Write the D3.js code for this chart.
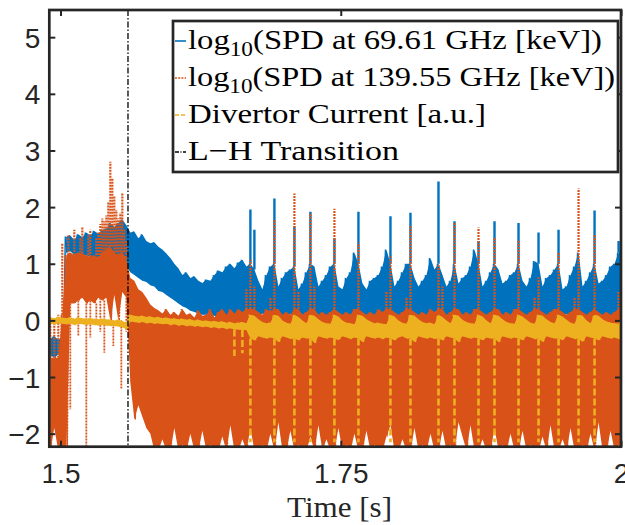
<!DOCTYPE html>
<html>
<head>
<meta charset="utf-8">
<script src="https://cdn.jsdelivr.net/npm/d3@7"></script>
<style>
  body { margin: 0; background: #fff; }
  svg { display: block; }
</style>
</head>
<body>
<script>
// sampled signals: each bin has a high and a low sample of the dense core of
// the trace (read off the figure); spikes and drops are listed separately
var tStart = 1.49;
var tStep = 0.00357;
var lhTime = 1.5602;

var xTicks = [1.5, 1.75, 2];
var yTicks = [-2, -1, 0, 1, 2, 3, 4, 5];

var legendLabels = [
  ['log', '10', '(SPD at 69.61 GHz [keV])'],
  ['log', '10', '(SPD at 139.55 GHz [keV])'],
  ['Divertor Current [a.u.]'],
  ['L\u2212H Transition']
];

var blueHi = [
  -0.32, -0.28, -0.34, -0.3, 1.48, 1.5, 1.42, 1.52, 1.47, 1.55,
  1.5, 1.58, 1.53, 1.6, 1.62, 1.72, 1.65, 1.72, 1.78, 1.68,
  1.55, 1.57, 1.45, 1.52, 1.4, 1.36, 1.38, 1.3, 1.25, 1.18,
  1.1, 1.0, 0.92, 0.8, 0.85, 0.75, 0.78, 0.7, 0.66, 0.72,
  0.7, 0.8, 0.88, 0.85, 0.95, 1.0, 0.92, 1.02, 1.07, 0.95,
  1.0, 0.9, 0.7, 0.55, 0.8, 0.95, 1.0, 0.6, 0.75, 0.85,
  0.9, 0.95, 0.55, 0.65, 0.85, 1.0, 0.95, 0.6, 0.7, 0.8,
  0.95, 1.0, 0.6, 0.55, 0.75, 0.85, 1.2, 1.0, 0.65, 0.55,
  0.7, 0.75, 0.8, 0.95, 1.25, 1.0, 0.6, 0.7, 0.85, 1.0,
  1.0, 0.75, 0.6, 0.7, 0.8, 1.1, 0.9, 1.0, 0.8, 0.6,
  0.7, 1.0, 0.65, 0.75, 0.8, 0.95, 1.25, 1.0, 0.6, 0.7,
  0.85, 1.0, 0.9, 0.65, 0.7, 0.8, 0.85, 1.0, 0.7, 0.6,
  0.75, 1.05, 1.0, 0.6, 0.75, 0.8, 0.9, 1.0, 0.55, 0.6,
  0.8, 0.95, 1.2, 0.6, 0.7, 0.85, 1.0, 0.65, 0.7, 0.8,
  0.95, 1.0, 1.2, 1.3
];
var blueLo = [
  -0.62, -0.66, -0.6, -0.64, 1.2, 1.22, 1.15, 1.2, 1.1, 1.15,
  1.12, 1.1, 1.05, 0.95, 0.9, 0.05, 0.85, 0.9, 0.55, 0.95,
  0.85, 0.8, 0.75, 0.7, 0.68, 0.62, 0.6, 0.52, 0.5, 0.45,
  0.4, 0.35, 0.3, 0.25, 0.22, 0.17, 0.15, 0.12, 0.1, 0.1,
  0.08, 0.08, 0.1, 0.08, 0.08, 0.1, 0.08, 0.08, 0.1, 0.08,
  0.1, 0.06, 0.08, 0.12, 0.05, 0.09, 0.07, 0.1, 0.06, 0.08,
  0.11, 0.05, 0.08, 0.1, 0.07, 0.09, 0.06, 0.1, 0.08, 0.05,
  0.09, 0.11, 0.07, 0.08, 0.06, 0.1, 0.09, 0.05, 0.08, 0.1,
  0.07, 0.06, 0.09, 0.11, 0.08, 0.05, 0.1, 0.07, 0.09, 0.06,
  0.08, 0.1, 0.05, 0.09, 0.07, 0.11, 0.08, 0.06, 0.1, 0.09,
  0.05, 0.08, 0.07, 0.1, 0.06, 0.09, 0.11, 0.08, 0.05, 0.1,
  0.07, 0.09, 0.06, 0.08, 0.1, 0.05, 0.09, 0.07, 0.11, 0.08,
  0.06, 0.1, 0.09, 0.05, 0.08, 0.07, 0.1, 0.06, 0.09, 0.11,
  0.08, 0.05, 0.1, 0.07, 0.09, 0.06, 0.08, 0.1, 0.05, 0.09,
  0.07, 0.11, 0.08, 0.06
];
// ELM spikes of the 69.61 GHz channel (bin position, peak value)
var blueSpikeBins = [50, 51, 56, 61, 65, 71, 77, 85, 90, 97, 101, 107, 111, 117, 122, 127, 136, 142, 143];
var blueSpikeTops = [1.96, 1.6, 2.15, 1.66, 1.92, 1.45, 1.92, 1.84, 1.9, 2.45, 1.75, 1.4, 1.75, 1.72, 1.55, 1.6, 1.94, 1.4, 1.72];

var orangeHi = [
  -0.66, -0.66, -0.66, 0.1, 1.15, 1.2, 1.15, 1.2, 1.18, 1.15,
  1.12, 1.15, 1.1, 1.2, 1.25, 1.3, 1.2, 1.15, 1.2, 1.1,
  0.75, 0.7, 0.55, 0.5, 0.4, 0.28, 0.22, 0.18, 0.12, 0.2,
  0.1, 0.15, 0.08, 0.2, 0.1, 0.12, 0.05, 0.18, 0.08, 0.1,
  0.2, 0.05, 0.15, 0.2, 0.1, 0.2, 0.12, 0.2, 0.15, 0.2,
  0.2, 0.2, 0.15, 0.1, 0.2, 0.15, 0.2, 0.2, 0.1, 0.15,
  0.1, 0.2, 0.2, 0.1, 0.15, 0.2, 0.2, 0.1, 0.15, 0.1,
  0.15, 0.2, 0.15, 0.1, 0.15, 0.1, 0.2, 0.2, 0.15, 0.1,
  0.15, 0.1, 0.2, 0.15, 0.2, 0.2, 0.15, 0.1, 0.15, 0.2,
  0.2, 0.15, 0.1, 0.15, 0.1, 0.2, 0.15, 0.2, 0.2, 0.1,
  0.15, 0.2, 0.2, 0.1, 0.15, 0.1, 0.2, 0.2, 0.15, 0.1,
  0.15, 0.2, 0.2, 0.1, 0.15, 0.1, 0.2, 0.2, 0.15, 0.1,
  0.15, 0.2, 0.2, 0.15, 0.1, 0.15, 0.2, 0.2, 0.15, 0.1,
  0.15, 0.2, 0.2, 0.15, 0.1, 0.15, 0.2, 0.15, 0.1, 0.15,
  0.1, 0.15, 0.2, 0.2
];
var orangeLo = [
  -2.3, -1.9, -2.3, -2.3, -2.3, 0.3, 0.3, 0.35, 0.4, 0.3,
  0.35, 0.3, 0.4, 0.35, 0.4, 0.0, 0.45, 0.0, 0.5, 0.4,
  -1.1, -1.75, -1.5, -1.7, -1.9, -2.0, -2.3, -2.3, -2.1, -2.3,
  -2.3, -1.9, -2.3, -2.2, -2.3, -2.0, -2.3, -2.3, -1.95, -2.3,
  -2.2, -2.3, -2.3, -2.05, -2.3, -1.85, -2.3, -2.3, -2.1, -2.3,
  -1.9, -2.3, -2.3, -2.2, -2.3, -2.0, -2.3, -1.8, -2.3, -2.3,
  -1.95, -2.3, -2.2, -2.3, -2.3, -2.05, -2.3, -1.85, -2.3, -2.1,
  -2.3, -2.3, -1.9, -2.3, -2.2, -2.3, -2.0, -2.3, -2.3, -1.95,
  -2.3, -2.2, -2.3, -2.3, -2.05, -1.85, -2.3, -2.3, -2.1, -2.3,
  -2.3, -1.9, -2.3, -2.2, -2.3, -2.0, -2.3, -2.3, -1.95, -2.3,
  -2.2, -2.3, -1.8, -2.05, -2.3, -1.85, -2.3, -2.3, -2.1, -2.3,
  -2.3, -1.9, -2.3, -2.2, -2.3, -2.0, -2.3, -2.3, -1.95, -2.3,
  -2.2, -2.3, -2.3, -2.05, -2.3, -1.85, -2.3, -2.3, -2.1, -2.3,
  -1.9, -2.3, -2.3, -2.2, -2.3, -2.0, -2.3, -1.8, -2.3, -2.3,
  -1.95, -2.3, -2.2, -2.3
];
// spikes of the 139.55 GHz channel (bin position, peak value) and its drops
var orangeSpikeBins = [0, 1, 2, 3, 4.5, 6, 7.5, 8, 9.5, 10, 11.5, 12, 12.5, 13, 13.5, 14, 14.5,
                       15, 15.5, 16, 16.5, 17, 17.5, 18, 18.5, 19,
                       49, 50, 51, 55, 56, 61, 62, 65, 66, 71, 77, 84, 85, 89, 90,
                       97, 98, 101, 107, 111, 117, 121, 122, 127, 131, 132, 136, 142, 143];
var orangeSpikeTops = [0.05, 0.0, 0.1, 1.37, 1.5, 1.6, 1.45, 1.65, 1.5, 1.6, 1.45, 1.55, 1.7, 1.8, 1.75, 1.85, 2.1,
                       2.8, 2.5, 2.2, 1.95, 1.8, 1.9, 2.25, 1.6, 1.4,
                       0.55, 1.07, 0.6, 0.4, 1.78, 2.24, 0.5, 1.9, 0.6, 1.97, 1.37, 0.5, 1.13, 0.4, 1.66,
                       1.0, 0.6, 1.72, 1.64, 1.46, 1.4, 0.4, 0.76, 1.2, 0.4, 2.33, 1.52, 0.5, 0.7];
var orangeDropBins = [5, 7, 9, 10, 11.5, 12.5, 13.5, 15.75, 17, 17.75, 19];
var orangeDropLows = [-1.57, -0.28, -2.3, -0.3, 0.0, -0.2, -0.57, -0.45, 0.0, -1.22, -0.2];

var yellowHi = [
  0.05, 0.04, 0.06, 0.05, 0.04, 0.05, 0.03, 0.05, 0.04, 0.03,
  0.04, 0.03, 0.02, 0.03, 0.02, 0.01, 0.0, 0.01, -0.01, -0.04,
  0.1, 0.08, 0.07, 0.08, 0.06, 0.07, 0.05, 0.06, 0.04, 0.05,
  0.03, 0.04, 0.02, 0.03, 0.01, 0.02, 0.0, 0.01, -0.01, 0.0,
  -0.02, -0.01, -0.03, -0.02, -0.04, -0.03, -0.05, -0.04, -0.03, -0.05,
  0.1, 0.08, 0.02, -0.03, -0.05, -0.04, 0.1, 0.08, 0.0, -0.04,
  -0.06, 0.1, 0.06, 0.0, -0.05, 0.1, 0.08, 0.02, -0.03, -0.05,
  -0.06, 0.1, 0.07, 0.0, -0.04, -0.05, -0.07, 0.1, 0.08, 0.02,
  -0.02, -0.05, -0.04, -0.06, -0.07, 0.1, 0.07, 0.0, -0.04, -0.06,
  0.1, 0.08, 0.02, -0.03, -0.05, -0.04, -0.07, 0.1, 0.06, 0.0,
  -0.05, 0.1, 0.08, 0.01, -0.03, -0.05, -0.06, 0.1, 0.07, 0.0,
  -0.05, 0.1, 0.08, 0.02, -0.03, -0.05, -0.06, 0.1, 0.07, 0.01,
  -0.04, -0.06, 0.1, 0.08, 0.02, -0.03, -0.05, 0.1, 0.07, 0.01,
  -0.04, -0.06, 0.1, 0.08, 0.0, -0.05, 0.1, 0.08, 0.02, -0.02,
  -0.04, -0.05, -0.06, 0.1
];
var yellowLo = [
  -0.06, -0.07, -0.05, -0.06, -0.07, -0.06, -0.08, -0.06, -0.07, -0.08,
  -0.07, -0.08, -0.09, -0.08, -0.09, -0.1, -0.1, -0.11, -0.12, -0.16,
  -0.02, -0.03, -0.04, -0.03, -0.05, -0.04, -0.06, -0.05, -0.07, -0.06,
  -0.08, -0.07, -0.09, -0.08, -0.1, -0.09, -0.11, -0.1, -0.12, -0.11,
  -0.13, -0.12, -0.14, -0.13, -0.15, -0.14, -0.16, -0.16, -0.17, -0.17,
  -0.32, -0.35, -0.28, -0.3, -0.32, -0.3, -0.32, -0.38, -0.28, -0.3,
  -0.33, -0.32, -0.35, -0.3, -0.32, -0.32, -0.4, -0.28, -0.3, -0.32,
  -0.3, -0.32, -0.35, -0.28, -0.3, -0.33, -0.3, -0.32, -0.38, -0.28,
  -0.3, -0.32, -0.3, -0.33, -0.3, -0.32, -0.35, -0.3, -0.28, -0.32,
  -0.32, -0.38, -0.28, -0.3, -0.32, -0.3, -0.33, -0.32, -0.35, -0.28,
  -0.3, -0.32, -0.38, -0.28, -0.3, -0.32, -0.3, -0.32, -0.35, -0.3,
  -0.32, -0.32, -0.38, -0.28, -0.3, -0.32, -0.3, -0.32, -0.35, -0.28,
  -0.3, -0.33, -0.32, -0.38, -0.28, -0.3, -0.32, -0.32, -0.35, -0.28,
  -0.3, -0.33, -0.32, -0.38, -0.28, -0.3, -0.32, -0.35, -0.28, -0.3,
  -0.32, -0.3, -0.33, -0.32
];
// sharp drops of the divertor current (bin position, lowest value)
var yellowDropBins = [46, 48, 50, 56, 61, 65, 71, 77, 85, 90, 97, 101, 107, 111, 117, 122, 127, 132, 136, 143];
var yellowDropLows = [-0.63, -0.58, -2.15, -2.15, -2.15, -2.15, -2.15, -2.15, -2.15, -2.15,
                      -2.15, -2.15, -2.15, -2.15, -2.15, -2.15, -2.15, -2.15, -2.15, -2.15];

var ink = '#262626';
var blue = '#0072BD', orange = '#D95319', yellow = '#EDB120';

var svg = d3.select('body').append('svg')
    .attr('width', 625)
    .attr('height', 525);

var x = d3.scaleLinear().domain([1.49, 2]).range([49.3, 621]);
var y = d3.scaleLinear().domain([-2.23, 5.48]).range([446.7, 10]);

svg.append('clipPath').attr('id', 'plot')
  .append('rect')
    .attr('x', x.range()[0]).attr('y', y.range()[1])
    .attr('width', x.range()[1] - x.range()[0])
    .attr('height', y.range()[0] - y.range()[1]);

function binTime(i) { return tStart + i * tStep; }

// each bin -> high sample then low sample half a step later
function zigzag(hi, lo) {
  var pts = [];
  hi.forEach(function (h, i) {
    pts.push([binTime(i), h]);
    pts.push([binTime(i + 0.5), lo[i]]);
  });
  return pts;
}

var line = d3.line().x(d => x(d[0])).y(d => y(d[1]));
var band = d3.area()
    .x((d, i) => x(binTime(i + 0.25)))
    .y0(d => y(d[1]))
    .y1(d => y(d[0]));

var plot = svg.append('g').attr('clip-path', 'url(#plot)');

function drawCore(hi, lo, color, width, dash) {
  var g = plot.append('g');
  g.append('path')
      .attr('d', band(d3.zip(hi, lo)))
      .attr('fill', color);
  g.append('path')
      .attr('d', line(zigzag(hi, lo)))
      .attr('fill', 'none')
      .attr('stroke', color)
      .attr('stroke-width', width)
      .attr('stroke-linejoin', 'bevel')
      .attr('stroke-dasharray', dash);
}

// vertical excursions from the core value of a bin to a listed value
function drawStems(bins, ends, base, color, width, dash) {
  plot.append('g').selectAll('line')
    .data(d3.zip(bins, ends))
    .enter()
    .append('line')
      .attr('x1', d => x(binTime(d[0] + 0.25)))
      .attr('x2', d => x(binTime(d[0] + 0.25)))
      .attr('y1', d => y(base[Math.floor(d[0])]))
      .attr('y2', d => y(d[1]))
      .attr('stroke', color)
      .attr('stroke-width', width)
      .attr('stroke-dasharray', dash);
}

drawCore(blueHi, blueLo, blue, 1.4, null);
drawStems(blueSpikeBins, blueSpikeTops, blueHi, blue, 2.4, null);

drawCore(orangeHi, orangeLo, orange, 1.4, '2,1');
drawStems(orangeSpikeBins, orangeSpikeTops, orangeHi, orange, 2.2, '2,1');
drawStems(orangeDropBins, orangeDropLows, orangeLo, orange, 1.8, '2,1');

drawCore(yellowHi, yellowLo, yellow, 1.6, '6,2');
drawStems(yellowDropBins, yellowDropLows, yellowLo, yellow, 2.6, '7,3');

// L-H transition marker
plot.append('line')
    .attr('x1', x(lhTime)).attr('x2', x(lhTime))
    .attr('y1', y.range()[1]).attr('y2', y.range()[0])
    .attr('stroke', '#000')
    .attr('stroke-width', 1.3)
    .attr('stroke-dasharray', '6,2,1.5,2');

// axes
function styleAxis(g) {
  g.select('.domain').remove();
  g.selectAll('.tick line').attr('stroke', ink).attr('stroke-width', 2);
  g.selectAll('.tick text')
    .attr('fill', ink)
    .style('font-family', '"Liberation Sans", Arial, Helvetica, sans-serif')
    .style('font-size', '28px');
}

svg.append('g')
    .attr('transform', 'translate(0,' + y.range()[0] + ')')
    .call(d3.axisBottom(x).tickValues(xTicks).tickSize(-6).tickFormat(d3.format('')))
    .call(styleAxis)
    .selectAll('.tick text').attr('y', 36.5).attr('dy', 0);

svg.append('g')
    .attr('transform', 'translate(0,' + y.range()[1] + ')')
    .call(d3.axisTop(x).tickValues(xTicks).tickSize(-6).tickFormat(''))
    .call(styleAxis);

svg.append('g')
    .attr('transform', 'translate(' + x.range()[0] + ',0)')
    .call(d3.axisLeft(y).tickValues(yTicks).tickSize(-6).tickFormat(d3.format('d')))
    .call(styleAxis)
    .selectAll('.tick text').attr('x', -9).attr('dy', '0.36em');

svg.append('g')
    .attr('transform', 'translate(' + x.range()[1] + ',0)')
    .call(d3.axisRight(y).tickValues(yTicks).tickSize(-6).tickFormat(''))
    .call(styleAxis);

// frame
svg.append('rect')
    .attr('x', x.range()[0]).attr('y', y.range()[1])
    .attr('width', x.range()[1] - x.range()[0])
    .attr('height', y.range()[0] - y.range()[1])
    .attr('fill', 'none')
    .attr('stroke', ink)
    .attr('stroke-width', 2.7);

svg.append('text')
    .attr('x', 339.5).attr('y', 517)
    .attr('text-anchor', 'middle')
    .attr('textLength', 105)
    .attr('lengthAdjust', 'spacingAndGlyphs')
    .style('font-family', '"Liberation Serif", "Times New Roman", serif')
    .style('font-size', '29px')
    .attr('fill', ink)
    .text('Time [s]');

// legend
var legend = svg.append('g');
legend.append('rect')
    .attr('x', 173).attr('y', 21)
    .attr('width', 445).attr('height', 151)
    .attr('fill', '#fff')
    .attr('stroke', ink)
    .attr('stroke-width', 2.7);

var legendSamples = [
  {color: blue, dash: null},
  {color: orange, dash: '2,1.2'},
  {color: yellow, dash: '4,2'},
  {color: '#000', dash: '4,1.5,1,1.5'}
];
var legendWidths = [414, 427, 298, 211];

legendLabels.forEach(function (parts, i) {
  var cy = 41 + i * 37;
  legend.append('line')
      .attr('x1', 175).attr('x2', 186)
      .attr('y1', cy).attr('y2', cy)
      .attr('stroke', legendSamples[i].color)
      .attr('stroke-width', 1.6)
      .attr('stroke-dasharray', legendSamples[i].dash);

  var t = legend.append('text')
      .attr('x', 188).attr('y', cy + 8)
      .attr('textLength', legendWidths[i])
      .attr('lengthAdjust', 'spacingAndGlyphs')
      .style('font-family', '"Liberation Serif", "Times New Roman", serif')
      .style('font-size', '28px')
      .attr('fill', '#000');
  if (parts.length === 3) {
    t.append('tspan').text(parts[0]);
    t.append('tspan').attr('dy', 7).style('font-size', '20px').text(parts[1]);
    t.append('tspan').attr('dy', -7).text(parts[2]);
  } else {
    t.text(parts[0]);
  }
});
</script>
</body>
</html>
